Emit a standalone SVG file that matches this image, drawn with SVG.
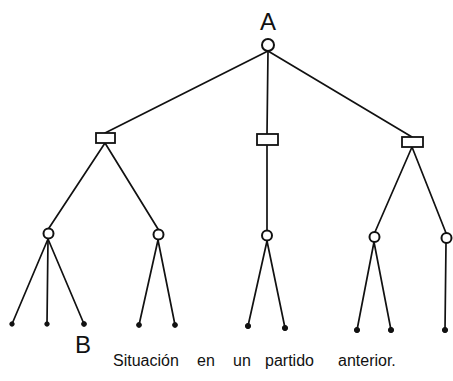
<svg xmlns="http://www.w3.org/2000/svg" width="453" height="381" viewBox="0 0 453 381">
  <style>
    .edge { stroke: #111; stroke-width: 1.7; fill: none; stroke-linecap: round; }
    .choice { fill: #fff; stroke: #111; stroke-width: 2; }
    .move { fill: #fff; stroke: #111; stroke-width: 1.8; }
    .leaf { fill: #111; stroke: #111; stroke-width: 1; }
    .label { font-family: "Liberation Sans", Arial, sans-serif; font-size: 24px; fill: #111; text-anchor: middle; }
    .caption { font-family: "Liberation Sans", Arial, sans-serif; font-size: 16px; fill: #111; }
  </style>
  <rect width="453" height="381" fill="#fff"/>

  <g id="connectors">
    <!-- root to the three move boxes -->
    <line class="edge" x1="268" y1="51" x2="105" y2="133"/>
    <line class="edge" x1="268" y1="51" x2="267" y2="134"/>
    <line class="edge" x1="268" y1="51" x2="412" y2="137"/>
    <!-- boxes to second-level choices -->
    <line class="edge" x1="105" y1="143" x2="49" y2="228"/>
    <line class="edge" x1="105" y1="143" x2="158" y2="229"/>
    <line class="edge" x1="267" y1="145" x2="267" y2="230"/>
    <line class="edge" x1="412" y1="147" x2="375" y2="232"/>
    <line class="edge" x1="412" y1="147" x2="446" y2="233"/>
    <!-- choices to terminal positions -->
    <line class="edge" x1="48" y1="239" x2="12" y2="324"/>
    <line class="edge" x1="48" y1="239" x2="47" y2="324"/>
    <line class="edge" x1="48" y1="239" x2="84" y2="324"/>
    <line class="edge" x1="158" y1="240" x2="139" y2="325"/>
    <line class="edge" x1="158" y1="240" x2="175" y2="325"/>
    <line class="edge" x1="267" y1="241" x2="248" y2="326"/>
    <line class="edge" x1="267" y1="241" x2="285" y2="328"/>
    <line class="edge" x1="374" y1="242" x2="357" y2="330"/>
    <line class="edge" x1="374" y1="242" x2="391" y2="330"/>
    <line class="edge" x1="446" y1="243" x2="445" y2="330"/>
  </g>

  <g id="root">
    <text class="label" x="268" y="30">A</text>
    <circle class="choice" cx="268" cy="45" r="6"/>
  </g>

  <g id="box-left"><rect class="move" x="96" y="133" width="19" height="10"/></g>
  <g id="box-mid"><rect class="move" x="257" y="134" width="21" height="11"/></g>
  <g id="box-right"><rect class="move" x="402" y="137" width="21" height="10"/></g>

  <g id="choice-1"><circle class="choice" cx="48.5" cy="233.5" r="5"/></g>
  <g id="choice-2"><circle class="choice" cx="158.5" cy="234.5" r="5"/></g>
  <g id="choice-3"><circle class="choice" cx="267" cy="235.5" r="5"/></g>
  <g id="choice-4"><circle class="choice" cx="374.5" cy="237" r="5"/></g>
  <g id="choice-5"><circle class="choice" cx="446.5" cy="238" r="5"/></g>

  <g id="leaf-1"><circle class="leaf" cx="12" cy="324" r="2.2"/></g>
  <g id="leaf-2"><circle class="leaf" cx="47" cy="324" r="2.2"/></g>
  <g id="leaf-3">
    <circle class="leaf" cx="84" cy="324" r="2.4"/>
    <text class="label" x="83" y="353">B</text>
  </g>
  <g id="leaf-4"><circle class="leaf" cx="139" cy="325" r="2.4"/></g>
  <g id="leaf-5"><circle class="leaf" cx="175" cy="325" r="2.4"/></g>
  <g id="leaf-6"><circle class="leaf" cx="248" cy="326" r="2.6"/></g>
  <g id="leaf-7"><circle class="leaf" cx="285" cy="328" r="2.6"/></g>
  <g id="leaf-8"><circle class="leaf" cx="357" cy="330" r="2.6"/></g>
  <g id="leaf-9"><circle class="leaf" cx="391" cy="330" r="2.6"/></g>
  <g id="leaf-10"><circle class="leaf" cx="445" cy="330" r="2.6"/></g>

  <text class="caption" y="366"><tspan x="113">Situación</tspan><tspan x="197">en</tspan><tspan x="233">un</tspan><tspan x="265">partido</tspan><tspan x="338">anterior.</tspan></text>
</svg>
